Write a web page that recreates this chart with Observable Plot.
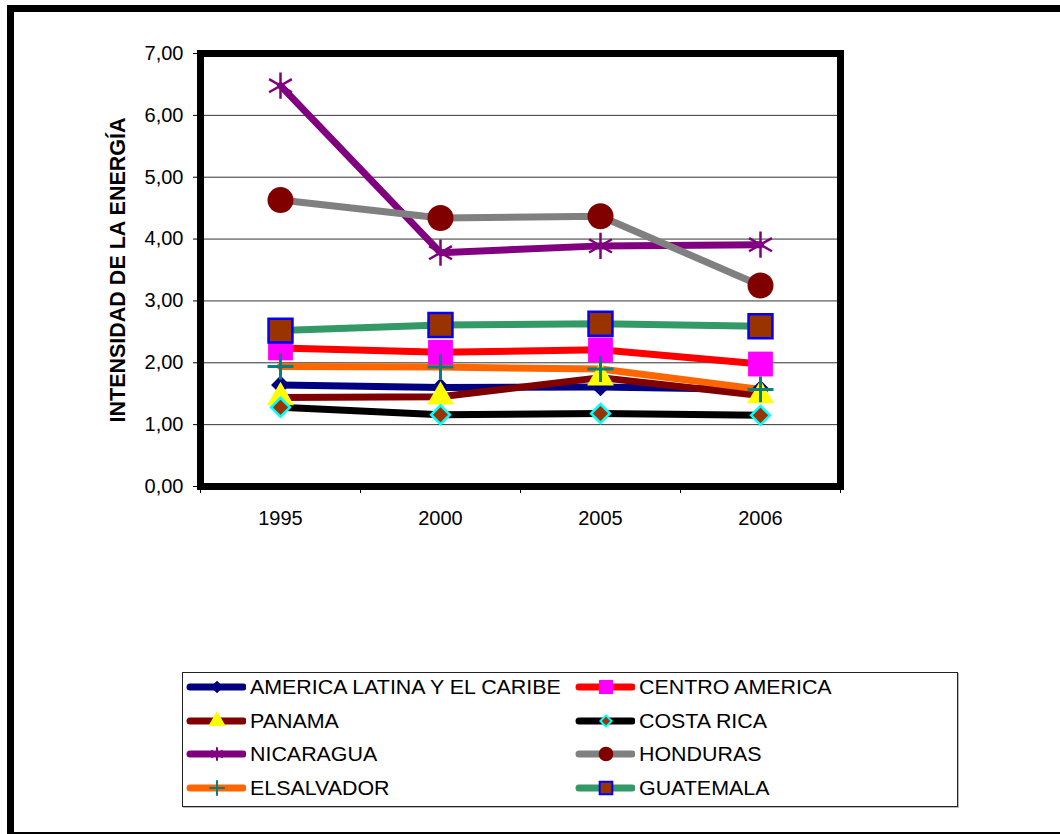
<!DOCTYPE html>
<html>
<head>
<meta charset="utf-8">
<script src="https://cdn.jsdelivr.net/npm/d3@7"></script>
<script src="https://cdn.jsdelivr.net/npm/@observablehq/plot@0.6"></script>
<style>
  body { margin: 0; background: #fff; }
  #wrap { position: relative; width: 1060px; height: 834px; overflow: hidden; background: #fff;
          font-family: "Liberation Sans", Arial, sans-serif; }
  #chart { position: absolute; left: 0; top: 0; }
  #frame { position: absolute; left: 7px; top: 5px; width: 1200px; height: 820px;
           border: 7px solid #000; pointer-events: none; }
  #legend { position: absolute; left: 182px; top: 672px; width: 774px; height: 133px;
            border: 1.5px solid #222; box-shadow: 1px 1px 0 #bbb; background: #fff; }
  .item { position: absolute; height: 26px; display: flex; align-items: center; }
  .item svg { display: block; margin-right: 4px; }
  .item span { display: inline-block; font-size: 20px; color: #000; white-space: nowrap;
               transform: scaleX(1.07); transform-origin: left center; }
</style>
</head>
<body>
<div id="wrap">
  <div id="chart"></div>
  <div id="legend"></div>
  <div id="frame"></div>
</div>
<script>
// ---- data ----
const years = ["1995", "2000", "2005", "2006"];
const yTicks = [0, 1, 2, 3, 4, 5, 6, 7];
const seriesNames = ["AMERICA LATINA Y EL CARIBE", "CENTRO AMERICA", "PANAMA", "COSTA RICA",
                     "NICARAGUA", "HONDURAS", "ELSALVADOR", "GUATEMALA"];
const americaLatina = [1.64, 1.60, 1.61, 1.57];
const centroAmerica = [2.24, 2.17, 2.21, 1.98];
const panama        = [1.44, 1.45, 1.76, 1.47];
const costaRica     = [1.28, 1.16, 1.18, 1.15];
const nicaragua     = [6.48, 3.78, 3.89, 3.91];
const honduras      = [4.63, 4.34, 4.37, 3.25];
const elSalvador    = [1.94, 1.93, 1.90, 1.57];
const guatemala     = [2.52, 2.61, 2.63, 2.59];
const seriesValues = [americaLatina, centroAmerica, panama, costaRica, nicaragua, honduras, elSalvador, guatemala];

// ---- styles ----
const lineColors = ["#000080", "#FF0000", "#800000", "#000000", "#800080", "#808080", "#FF6600", "#339966"];
const markers = [
  {symbol: "diamond2", r: 8.5,  fill: "#000080", stroke: "none", sw: 0,   lsize: 100, d3t: "symbolDiamond2"},
  {symbol: "square",   r: 14,   fill: "#FF00FF", stroke: "none", sw: 0,   lsize: 200, d3t: "symbolSquare"},
  {symbol: "triangle", r: 10,   fill: "#FFFF00", stroke: "none", sw: 0,   lsize: 130, d3t: "symbolTriangle"},
  {symbol: "diamond2", r: 8.5,  fill: "#993300", stroke: "#00FFFF", sw: 2.5, lsize: 80, d3t: "symbolDiamond2"},
  {symbol: "asterisk", r: 12.5, fill: "none",    stroke: "#800080", sw: 2.5, lsize: 130, d3t: "symbolAsterisk"},
  {symbol: "circle",   r: 13,   fill: "#800000", stroke: "none", sw: 0,   lsize: 170, d3t: "symbolCircle"},
  {symbol: "plus",     r: 8.4,  fill: "none",    stroke: "#008080", sw: 3,  lsize: 80,  d3t: "symbolPlus"},
  {symbol: "square",   r: 13.5, fill: "#993300", stroke: "#0000FF", sw: 2.5, lsize: 160, d3t: "symbolSquare"}
];

const tables = seriesValues.map((vals, s) => years.map((yr, i) => ({serie: seriesNames[s], year: yr, value: vals[i]})));

const lineMarks = tables.map((t, s) => Plot.line(t, {
  x: "year", y: "value", stroke: lineColors[s], strokeWidth: 7,
  strokeLinejoin: "round", strokeLinecap: "round"
}));
const dotMarks = tables.map((t, s) => {
  const m = markers[s];
  return Plot.dot(t, {
    x: "year", y: "value", symbol: () => m.symbol, r: m.r,
    fill: m.fill, stroke: m.stroke, strokeWidth: m.sw
  });
});

const fmt = d => d.toFixed(2).replace(".", ",");

const chart = Plot.plot({
  width: 1060, height: 560,
  marginLeft: 200, marginRight: 220, marginTop: 53, marginBottom: 74,
  style: {background: "transparent", fontFamily: "'Liberation Sans', Arial, sans-serif", color: "#000", overflow: "visible"},
  x: {type: "band", domain: years, padding: 0},
  y: {domain: [0, 7]},
  marks: [
    Plot.gridY([1, 2, 3, 4, 5, 6], {stroke: "#000", strokeOpacity: 0.8, strokeWidth: 1}),
    Plot.axisY({ticks: yTicks, tickSize: 7, tickPadding: 10, tickFormat: fmt, label: null, fontSize: 20}),
    Plot.axisX({tickSize: 0, tickPadding: 24, label: null, fontSize: 20}),
    Plot.ruleX(years, {x: d => d, dx: -80, insetTop: 433, insetBottom: -7, stroke: "#000", strokeWidth: 1}),
    Plot.ruleX(years.slice(-1), {x: d => d, dx: 80, insetTop: 433, insetBottom: -7, stroke: "#000", strokeWidth: 1}),
    Plot.text(["INTENSIDAD DE LA ENERGÍA"], {text: d => d, frameAnchor: "left", textAnchor: "middle",
      dx: -82, rotate: -90, fontWeight: "bold", fontSize: 21.5, fill: "#000"}),
    Plot.frame({stroke: "#000", strokeWidth: 7}),
    ...lineMarks,
    ...dotMarks
  ]
});
document.getElementById("chart").appendChild(chart);

// ---- legend ----
const legend = d3.select("#legend");
const colLeft = [3, 392];
const rowTop = [14, 48, 81, 115];
seriesNames.forEach((name, s) => {
  const col = s % 2, row = Math.floor(s / 2);
  const item = legend.append("div").attr("class", "item")
    .style("left", colLeft[col] + "px").style("top", (rowTop[row] - 13) + "px");
  const svg = item.append("svg").attr("width", 60).attr("height", 26);
  svg.append("line").attr("x1", 4).attr("x2", 57).attr("y1", 13).attr("y2", 13)
    .attr("stroke", lineColors[s]).attr("stroke-width", 7).attr("stroke-linecap", "round");
  const m = markers[s];
  const type = d3[m.d3t] || d3.symbolDiamond;
  svg.append("path").attr("transform", "translate(31,13)")
    .attr("d", d3.symbol().type(type).size(m.lsize)())
    .attr("fill", m.fill).attr("stroke", m.stroke).attr("stroke-width", m.sw ? Math.min(m.sw, 2) : 0);
  item.append("span").text(name);
});
</script>
</body>
</html>
